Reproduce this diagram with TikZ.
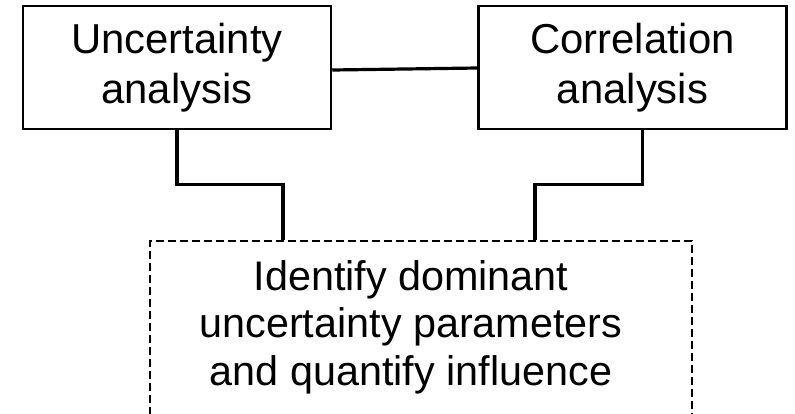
\documentclass[tikz,border=0pt]{standalone}
\usepackage{fontspec}
\setmainfont{Liberation Sans}
\usetikzlibrary{positioning}

\begin{document}
\begin{tikzpicture}[x=1bp, y=-1bp,
    fullnode/.style={draw, line width=2.5bp, minimum width=308bp, minimum height=123bp, align=center, font=\fontsize{42}{50}\selectfont},
    dashnode/.style={draw, line width=2.4bp, dash pattern=on 8bp off 4bp, minimum width=542bp, minimum height=190bp},
    link/.style={line width=3.2bp}]
        \useasboundingbox (0,0) rectangle (795,413);
        \node[fullnode] (ua) at (177,67.5) {Uncertainty\\analysis};
        \node[fullnode] (ca) [right=145bp of ua] {Correlation\\analysis};
        \node[dashnode, anchor=north] (dom) at (421,240) {};
        \node[inner sep=0, align=center, anchor=north, font=\fontsize{41.5}{48}\selectfont] (domtext) [below=20bp of dom.north, xshift=-10bp] {Identify dominant\\uncertainty parameters\\and quantify influence};

        \draw[link] ([yshift=-2.5bp]ua.east) -- ([yshift=-0.5bp]ca.west);
        \draw[link] (ua.south) -- ++(0,54) -| ([xshift=-138bp]dom.north);
        \draw[link] ([xshift=10bp]ca.south) -- ++(0,54) -| ([xshift=114bp]dom.north);
    \end{tikzpicture}
\end{document}
